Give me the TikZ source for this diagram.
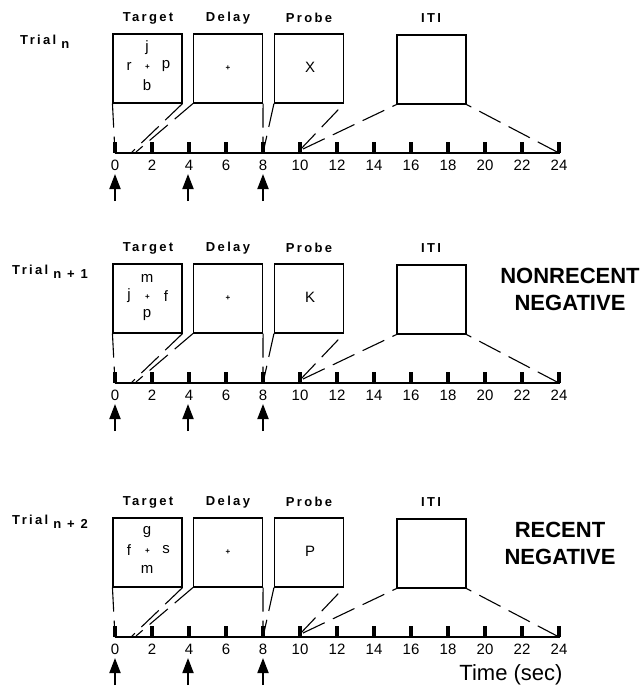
\documentclass[tikz,border=0pt]{standalone}
\usepackage{fontspec}
\setmainfont{Liberation Sans}
\usetikzlibrary{arrows.meta}
\tikzset{
 box/.style={draw, line width=1.1pt, minimum width=69pt, minimum height=69pt, inner sep=0pt},
 conn/.style={line width=1.1pt, dash pattern=on 24pt off 9pt},
 axisline/.style={line width=2.2pt},
 tickbar/.style={line width=3.6pt},
 ticklab/.style={font=\fontsize{15}{15}\selectfont, inner sep=0pt},
 head/.style={font=\fontsize{13}{13}\selectfont\bfseries\addfontfeature{LetterSpace=18}, inner sep=0pt},
 triallab/.style={font=\fontsize{13}{13}\selectfont\bfseries\addfontfeature{LetterSpace=18}, inner sep=0pt, anchor=west},
 lett/.style={font=\fontsize{15}{15}\selectfont, inner sep=0pt},
 pluslab/.style={font=\fontsize{8}{8}\selectfont\bfseries, inner sep=0pt},
 uparrow/.style={line width=1.8pt, -{Triangle[width=11pt,length=15pt]}},
 big/.style={font=\fontsize{22}{27}\selectfont\bfseries, align=center, inner sep=0pt},
}
\newcommand\trialpanel[7]{%
\begin{scope}[yshift=-#2pt]
 \node[head] (#1hT) at (148,18) {Target};
 \node[head] (#1hD) at (228,18) {Delay};
 \node[head] (#1hP) at (309,18) {Probe};
 \node[head] (#1hI) at (431,18) {ITI};
 \node[box] (#1T) at (147.5,68.5) {};
 \node[box] (#1D) at (228,68.5) {};
 \node[box] (#1P) at (309,68.5) {};
 \node[box] (#1I) at (431.5,69.5) {};
 \node[lett] (#1Ta) at (147,48) {#3};
 \node[lett] (#1Tb) at (129,66) {#4};
 \node[pluslab] (#1Tc) at (147.5,67) {+};
 \node[lett] (#1Td) at (166,66) {#5};
 \node[lett] (#1Te) at (147,85) {#6};
 \node[pluslab] (#1Dc) at (228,68) {+};
 \node[lett] (#1Pc) at (310,67) {#7};
 \draw[axisline] (115,153) -- (560,153);
 \foreach \t in {0,2,...,24} {
   \coordinate (#1t\t) at ({115+18.5*\t},153);
   \draw[tickbar] ({115+18.5*\t},153) -- ({115+18.5*\t},142);
   \node[ticklab] (#1l\t) at ({115+18.5*\t},165) {\t};
 }
 \coordinate (#1e1) at (132,152);
 \coordinate (#1e2) at (136,152);
 \coordinate (#1e3) at (299,151);
 \coordinate (#1e4) at (303,149);
 \draw[conn] (#1T.south west) -- (#1t0);
 \draw[conn] (#1T.south east) -- (#1e1);
 \draw[conn] (#1D.south west) -- (#1e2);
 \draw[conn] (#1D.south east) -- (#1t8);
 \draw[conn] (#1P.south west) -- (#1t8);
 \draw[conn] (#1e3) -- (#1P.south east);
 \draw[conn] (#1e4) -- (#1I.south west);
 \draw[conn] (#1t24) -- (#1I.south east);
 \coordinate (#1a0) at (115,201);
 \coordinate (#1a1) at (188,201);
 \coordinate (#1a2) at (263,201);
 \coordinate (#1b0) at (115,174);
 \coordinate (#1b1) at (188,174);
 \coordinate (#1b2) at (263,174);
 \draw[uparrow] (#1a0) -- (#1b0);
 \draw[uparrow] (#1a1) -- (#1b1);
 \draw[uparrow] (#1a2) -- (#1b2);
\end{scope}}
\begin{document}
\begin{tikzpicture}[x=1pt,y=-1pt]
\useasboundingbox (0,0) rectangle (643,687);
\trialpanel{a}{0}{j}{r}{p}{b}{X}
\trialpanel{b}{230}{m}{j}{f}{p}{K}
\trialpanel{c}{484}{g}{f}{s}{m}{P}
\node[triallab] (ta) at (20,42) {Trial\kern5pt\raisebox{-4pt}{n}};
\node[triallab] (tb) at (12,272) {Trial\kern5pt\raisebox{-4pt}{n + 1}};
\node[triallab] (tc) at (12,522) {Trial\kern5pt\raisebox{-4pt}{n + 2}};
\node[big] (nr) at (570,289) {NONRECENT\\NEGATIVE};
\node[big] (rn) at (560,543) {RECENT\\NEGATIVE};
\node[font=\fontsize{22}{22}\selectfont, inner sep=0pt] (time) at (511,675) {Time (sec)};
\end{tikzpicture}
\end{document}
